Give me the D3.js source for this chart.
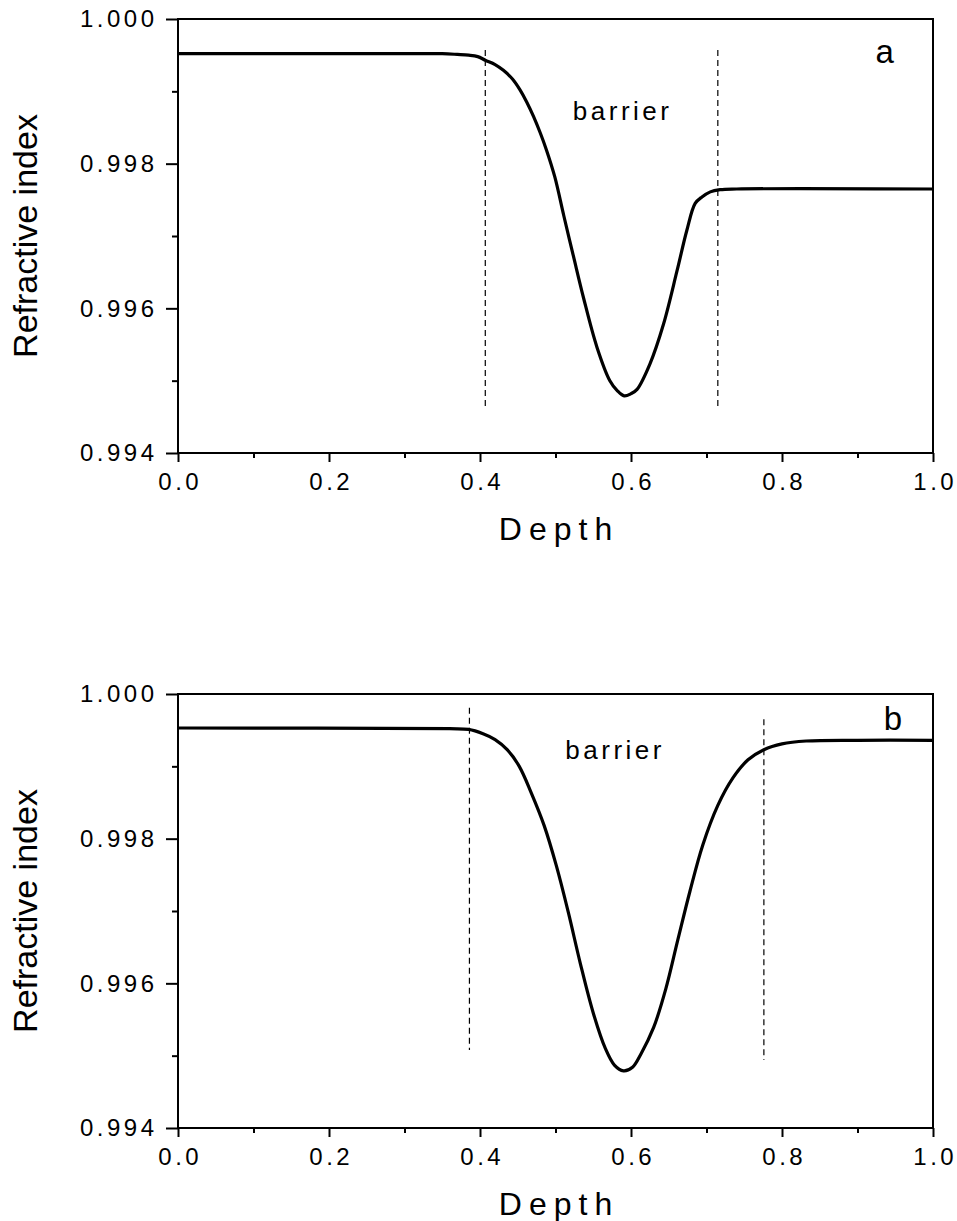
<!DOCTYPE html>
<html>
<head>
<meta charset="utf-8">
<script src="https://cdn.jsdelivr.net/npm/d3@7"></script>
<style>
  body { margin: 0; background: #fff; }
  svg { display: block; font-family: "Liberation Sans", Arial, sans-serif; }
  .tick text { font-size: 24px; letter-spacing: 3.5px; fill: #000; }
</style>
</head>
<body>
<div id="target"></div>
<script>
// panel a
const depthA = [0, 0.30, 0.35, 0.37, 0.385, 0.397, 0.407, 0.42, 0.431, 0.443, 0.453, 0.462, 0.471, 0.480, 0.488, 0.499, 0.511, 0.524, 0.537, 0.555, 0.572, 0.582, 0.591, 0.600, 0.608, 0.625, 0.643, 0.661, 0.674, 0.685, 0.694, 0.705, 0.718, 0.74, 1.0];
const indexA = [0.99952, 0.99952, 0.99952, 0.99951, 0.99950, 0.99948, 0.99943, 0.99937, 0.99929, 0.99917, 0.99902, 0.99885, 0.99865, 0.99842, 0.99819, 0.99782, 0.99728, 0.99671, 0.99615, 0.99546, 0.99500, 0.99486, 0.99479, 0.99482, 0.99488, 0.99523, 0.99578, 0.99652, 0.99708, 0.99745, 0.99754, 0.99761, 0.99764, 0.99765, 0.99765];
const barrierA = [{x: 0.407, y0: 0.99462, y1: 0.99957}, {x: 0.715, y0: 0.99462, y1: 0.99957}];

// panel b
const depthB = [0, 0.36, 0.385, 0.404, 0.42, 0.436, 0.452, 0.468, 0.485, 0.501, 0.517, 0.533, 0.550, 0.566, 0.578, 0.590, 0.602, 0.613, 0.630, 0.646, 0.662, 0.678, 0.695, 0.715, 0.735, 0.755, 0.776, 0.80, 0.832, 0.90, 1.0];
const indexB = [0.99953, 0.99952, 0.99951, 0.99945, 0.99937, 0.99923, 0.99900, 0.99863, 0.99818, 0.99763, 0.99698, 0.99627, 0.99559, 0.99510, 0.99487, 0.99479, 0.99484, 0.99502, 0.99539, 0.99592, 0.99660, 0.99727, 0.99791, 0.99846, 0.99884, 0.99909, 0.99923, 0.99931, 0.99935, 0.99936, 0.99936];
const barrierB = [{x: 0.386, y0: 0.99508, y1: 0.99981}, {x: 0.776, y0: 0.99494, y1: 0.99965}];

const xTicks = [0, 0.2, 0.4, 0.6, 0.8, 1.0];
const xMinor = [0.1, 0.3, 0.5, 0.7, 0.9];
const yTicks = [0.994, 0.996, 0.998, 1.000];
const yMinor = [0.995, 0.997, 0.999];

const width = 957, height = 1221;
const plotW = 755, plotH = 434, left = 178;

const svg = d3.select("#target").append("svg")
  .attr("width", width)
  .attr("height", height);

function drawPanel(top, depth, index, barrier, letter, letterPos, barrierPos) {
  const x = d3.scaleLinear().domain([0, 1]).range([0, plotW]);
  const y = d3.scaleLinear().domain([0.994, 1.000]).range([plotH, 0]);

  const g = svg.append("g").attr("transform", `translate(${left},${top})`);

  // minor ticks
  g.append("g")
    .attr("transform", `translate(0,${plotH})`)
    .call(d3.axisBottom(x).tickValues(xMinor).tickSize(5).tickFormat(""))
    .call(a => a.select(".domain").remove())
    .selectAll("line").attr("stroke-width", 2);
  g.append("g")
    .call(d3.axisLeft(y).tickValues(yMinor).tickSize(6).tickFormat(""))
    .call(a => a.select(".domain").remove())
    .selectAll("line").attr("stroke-width", 2);

  // major ticks + labels
  const xa = g.append("g")
    .attr("transform", `translate(0,${plotH})`)
    .call(d3.axisBottom(x).tickValues(xTicks).tickSize(9).tickPadding(11).tickFormat(d3.format(".1f")));
  xa.select(".domain").remove();
  xa.selectAll("line").attr("stroke-width", 2);
  xa.selectAll("text").attr("dx", "1.75px");

  const ya = g.append("g")
    .call(d3.axisLeft(y).tickValues(yTicks).tickSize(12).tickPadding(8.5).tickFormat(d3.format(".3f")));
  ya.select(".domain").remove();
  ya.selectAll("line").attr("stroke-width", 2);

  // frame
  g.append("rect")
    .attr("width", plotW).attr("height", plotH)
    .attr("fill", "none").attr("stroke", "#000").attr("stroke-width", 2);

  // barrier bounds
  g.selectAll(".bound").data(barrier).enter().append("line")
    .attr("class", "bound")
    .attr("x1", d => x(d.x)).attr("x2", d => x(d.x))
    .attr("y1", d => y(d.y1)).attr("y2", d => y(d.y0))
    .attr("stroke", "#000").attr("stroke-width", 1.2)
    .attr("stroke-dasharray", "6,4");

  // curve
  const line = d3.line()
    .x(i => x(depth[i]))
    .y(i => y(index[i]))
    .curve(d3.curveCatmullRom.alpha(0.5));
  g.append("path")
    .attr("d", line(d3.range(depth.length)))
    .attr("fill", "none").attr("stroke", "#000").attr("stroke-width", 3.2)
    .attr("stroke-linejoin", "round");

  g.append("text")
    .attr("x", x(barrierPos[0])).attr("y", y(barrierPos[1]))
    .attr("text-anchor", "middle")
    .style("font-size", "26px").style("letter-spacing", "3.5px")
    .text("barrier");

  g.append("text")
    .attr("x", x(letterPos[0])).attr("y", y(letterPos[1]))
    .attr("text-anchor", "middle")
    .style("font-size", "33px")
    .text(letter);

  // axis titles
  g.append("text")
    .attr("x", plotW / 2 + 3.5).attr("y", plotH + 87)
    .attr("text-anchor", "middle")
    .style("font-size", "32px").style("letter-spacing", "7px")
    .text("Depth");

  g.append("text")
    .attr("transform", `translate(${37 - left},${plotH / 2}) rotate(-90)`)
    .attr("text-anchor", "middle")
    .style("font-size", "34px")
    .text("Refractive index");
}

drawPanel(19, depthA, indexA, barrierA, "a", [0.936, 0.99939], [0.589, 0.99861]);
drawPanel(694, depthB, indexB, barrierB, "b", [0.947, 0.99950], [0.579, 0.99910]);
</script>
</body>
</html>
